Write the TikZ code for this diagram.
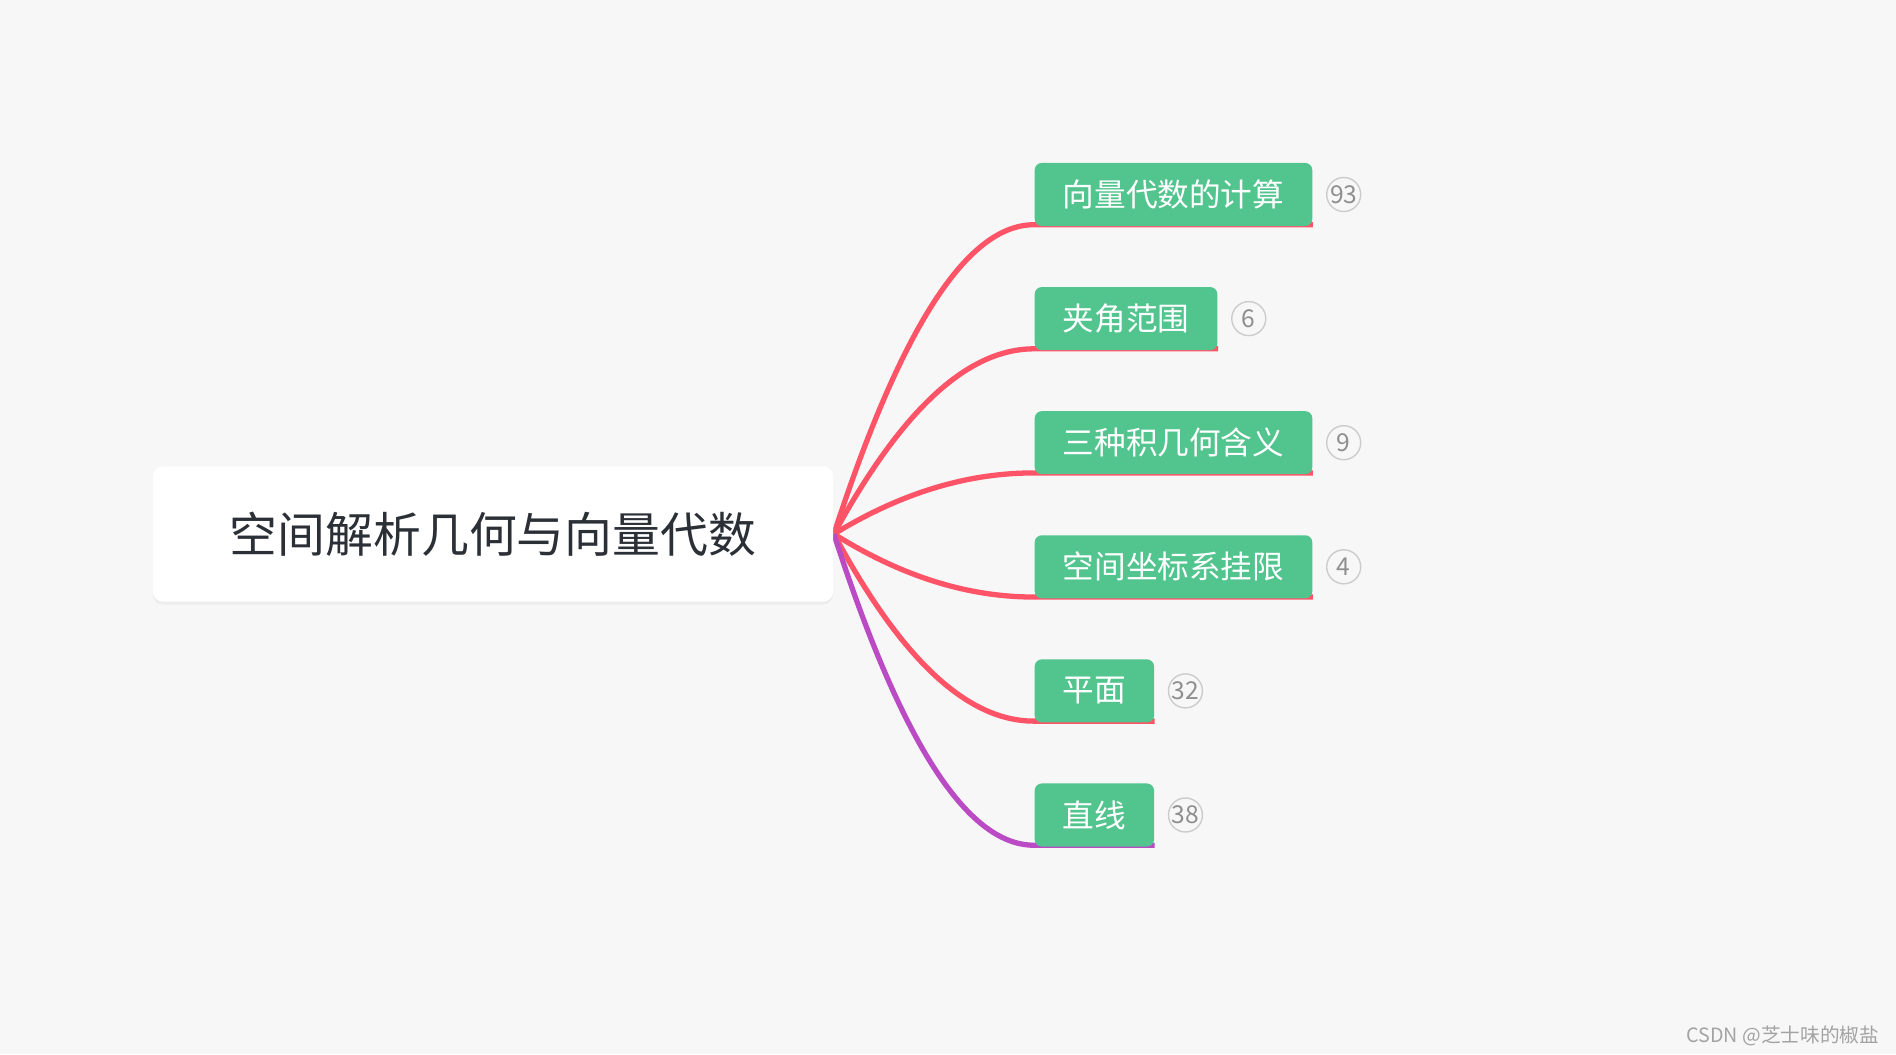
\documentclass[tikz,border=0pt]{standalone}
\usepackage{fontspec}
\usepackage{tikz}
\usetikzlibrary{positioning,shadows}
\newfontfamily\cjk{Noto Sans CJK SC}

\definecolor{canvas}{HTML}{F7F7F7}
\definecolor{leafgreen}{HTML}{52C48E}
\definecolor{linkred}{HTML}{FF5468}
\definecolor{linkpurple}{HTML}{BA4BC4}
\definecolor{roottext}{HTML}{2B2F36}
\definecolor{badgering}{HTML}{CCCCCC}
\definecolor{countgray}{HTML}{8F8F8F}
\definecolor{markgray}{HTML}{A3A3A3}

\pgfdeclarelayer{bg}
\pgfdeclarelayer{links}
\pgfsetlayers{bg,links,main}

\tikzset{
  rootbox/.style={fill=white, rounded corners=0.1cm, minimum width=6.8cm,
    minimum height=1.35cm, text=roottext,
    font=\cjk\fontsize{13.6}{14}\selectfont,
    drop shadow={shadow xshift=0cm, shadow yshift=-0.03cm, opacity=0.04, fill=black}},
  leaf/.style={fill=leafgreen, rounded corners=0.07cm, anchor=west,
    minimum height=0.63cm, inner xsep=0.28cm, text=white,
    font=\cjk\fontsize{9}{9}\selectfont},
  badge/.style={circle, draw=badgering, line width=0.4pt, minimum size=0.34cm,
    inner sep=0pt, text=countgray, font=\cjk\fontsize{7}{7}\selectfont},
  link/.style={line width=1.5pt, linkred},
}

\begin{document}
\begin{tikzpicture}[x=0.01cm,y=-0.01cm]
  \begin{pgfonlayer}{bg}
    \fill[canvas] (0,0) rectangle (1896,1054);
  \end{pgfonlayer}
  \useasboundingbox (0,0) rectangle (1896,1054);

  % root and topics
  \node[rootbox] (root) at (493,534) {空间解析几何与向量代数};
  \node[leaf] (calc) at (1034,194.5) {向量代数的计算};
  \node[leaf] (angle) at (1034,318.6) {夹角范围};
  \node[leaf] (prods) at (1034,442.7) {三种积几何含义};
  \node[leaf] (octant) at (1034,566.8) {空间坐标系挂限};
  \node[leaf] (plane) at (1034,690.9) {平面};
  \node[leaf] (line) at (1034,815) {直线};

  % counts
  \node[badge, right=0.13cm of calc] (calcn) {93};
  \node[badge, right=0.13cm of angle] (anglen) {6};
  \node[badge, right=0.13cm of prods] (prodsn) {9};
  \node[badge, right=0.13cm of octant] (octantn) {4};
  \node[badge, right=0.13cm of plane] (planen) {32};
  \node[badge, right=0.13cm of line] (linen) {38};

  % branches
  \begin{pgfonlayer}{links}
    \draw[link] (root.east) .. controls +(67,-206) and +(-67,0) .. ([yshift=0.02cm]calc.south west) -- ([yshift=0.02cm]calc.south east);
    \draw[link] (root.east) .. controls +(67,-123) and +(-67,0) .. ([yshift=0.02cm]angle.south west) -- ([yshift=0.02cm]angle.south east);
    \draw[link] (root.east) .. controls +(67,-41) and +(-67,0) .. ([yshift=0.02cm]prods.south west) -- ([yshift=0.02cm]prods.south east);
    \draw[link] (root.east) .. controls +(67,42) and +(-67,0) .. ([yshift=0.02cm]octant.south west) -- ([yshift=0.02cm]octant.south east);
    \draw[link] (root.east) .. controls +(67,125) and +(-67,0) .. ([yshift=0.02cm]plane.south west) -- ([yshift=0.02cm]plane.south east);
    \draw[link, linkpurple] (root.east) .. controls +(67,208) and +(-67,0) .. ([yshift=0.02cm]line.south west) -- ([yshift=0.02cm]line.south east);
  \end{pgfonlayer}

  \node[anchor=east, inner sep=0pt, text=markgray, font=\cjk\fontsize{5.6}{6}\selectfont] (mark) at (1880,1036) {CSDN @芝士味的椒盐};
\end{tikzpicture}
\end{document}
